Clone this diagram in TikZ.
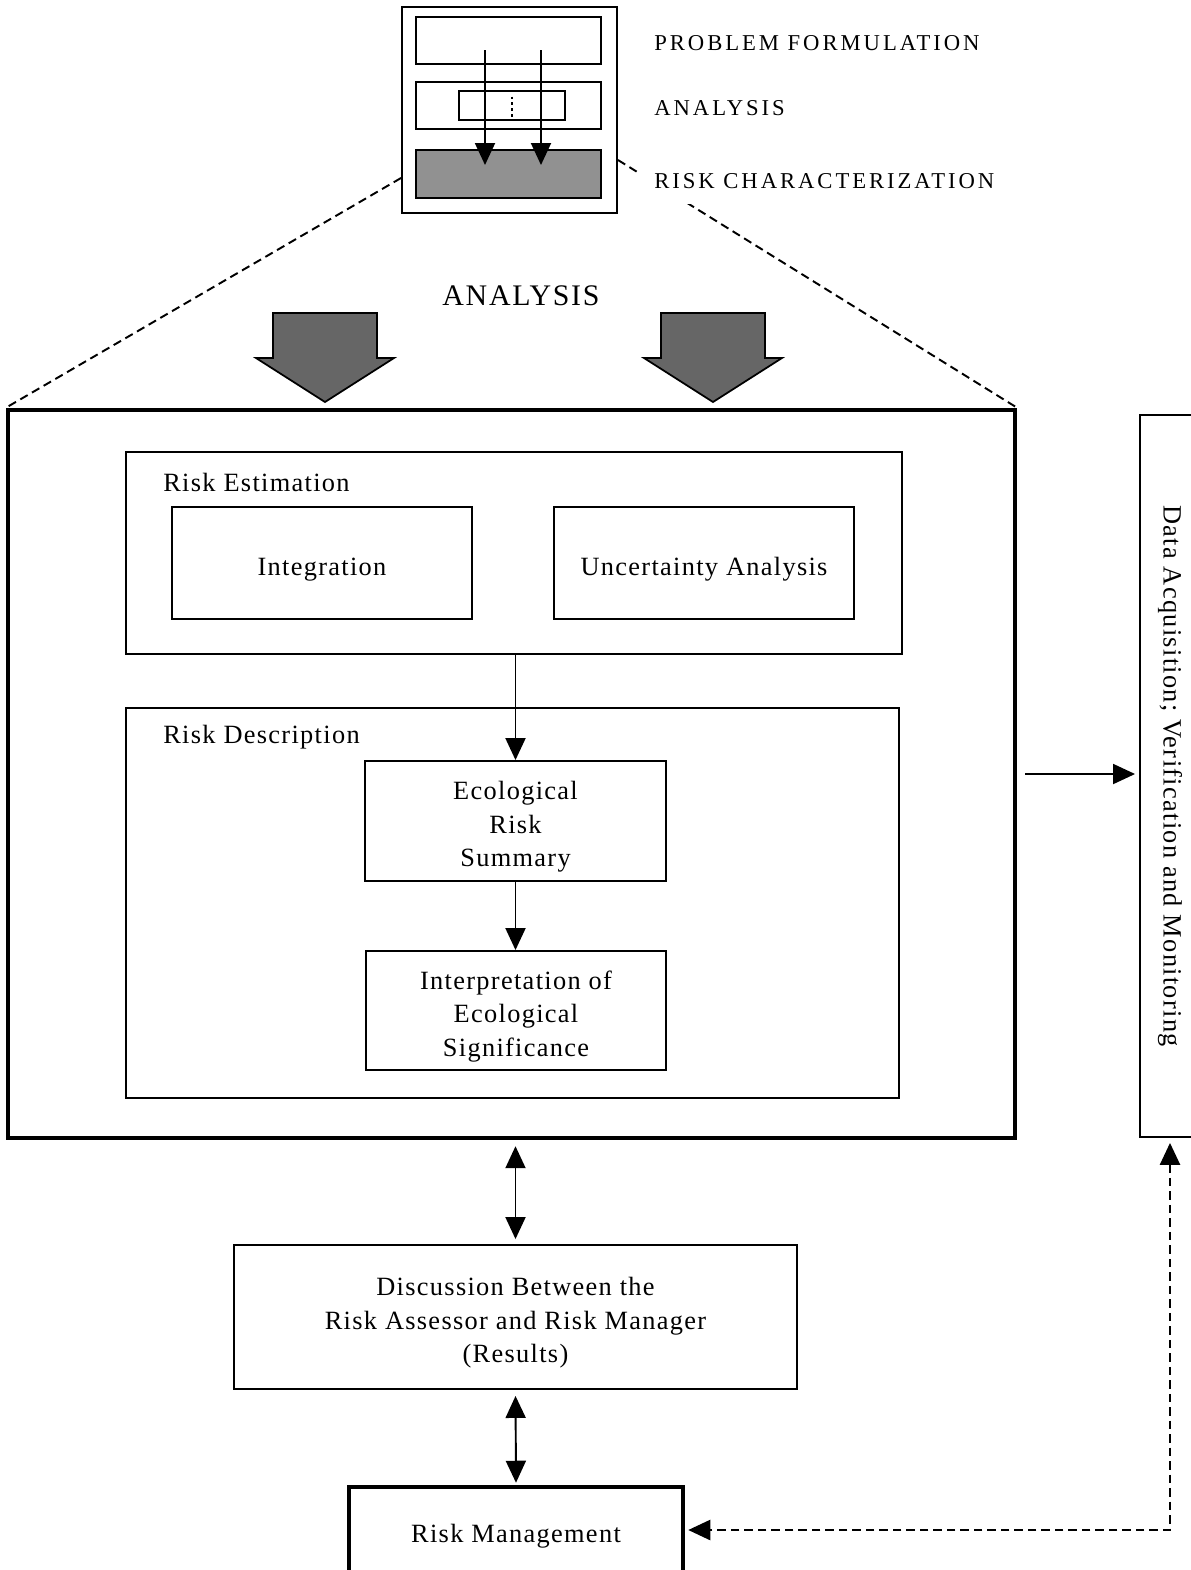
\documentclass[tikz,border=0pt]{standalone}
\usepackage{fontspec}
\setmainfont{Liberation Serif}[LetterSpace=5]
\newfontfamily\capsfont{Liberation Serif}[LetterSpace=13]
\newfontfamily\headfont{Liberation Serif}[LetterSpace=6]
\usetikzlibrary{arrows.meta}
\newcommand{\dropped}[1]{\raisebox{-0.11cm}[\height][\depth]{\begin{tabular}{@{}c@{}}#1\end{tabular}}}

\tikzset{
  box/.style={draw, line width=1.1pt, align=center, inner sep=0pt},
  thickbox/.style={draw, line width=2.6pt, align=center, inner sep=0pt},
  lab/.style={anchor=west, inner sep=0pt},
  arr/.style={line width=1.1pt, -{Triangle[width=0.4cm,length=0.44cm]}},
  darr/.style={line width=1.1pt, {Triangle[width=0.4cm,length=0.44cm]}-{Triangle[width=0.4cm,length=0.44cm]}},
  dashline/.style={line width=1.1pt, dash pattern=on 0.17cm off 0.1cm},
  bigarrow/.style={draw, line width=1pt, fill=black!60}
}

\begin{document}
\begin{tikzpicture}[x=0.02cm, y=-0.02cm, font=\fontsize{15}{19}\selectfont]
\useasboundingbox (0,0) rectangle (1191,1570);
% small overview
\node[box, minimum width=4.3cm, minimum height=4.12cm] (topbox) at (509.5,110) {};
\node[box, minimum width=3.7cm, minimum height=0.94cm] (pf) at (508.5,40.5) {};
\node[box, minimum width=3.7cm, minimum height=0.94cm] (an) at (508.5,105.5) {};
\node[box, minimum width=2.12cm, minimum height=0.58cm] (ansub) at (512,105.5) {};
\node[box, fill=black!43, minimum width=3.7cm, minimum height=0.96cm] (rc) at (508.5,174) {};
\draw[line width=1.4pt, dotted] ([yshift=0.18cm]ansub.center) -- ([yshift=-0.22cm]ansub.center);
\draw[arr] ([xshift=-0.47cm,yshift=-0.19cm]pf.center) -- ([xshift=-0.47cm,yshift=0.18cm]rc.center);
\draw[arr] ([xshift=0.65cm,yshift=-0.19cm]pf.center) -- ([xshift=0.65cm,yshift=0.18cm]rc.center);

% main frame
\node[thickbox, minimum width=20.14cm, minimum height=14.56cm] (main) at (511.5,774) {};
\draw[dashline] ([yshift=-1.36cm]topbox.west) -- (main.north west);
\draw[dashline] ([yshift=-1.0cm]topbox.east) -- (main.north east);

\node[lab] (pflab) at (654,43) {\capsfont\fontsize{12.9}{15}\selectfont PROBLEM FORMULATION};
\node[lab] (anlab) at (654,108) {\capsfont\fontsize{12.9}{15}\selectfont ANALYSIS};
\node[lab, fill=white, inner sep=0.3cm] (rclab) at (639,181) {\capsfont\fontsize{12.9}{15}\selectfont RISK CHARACTERIZATION};

\node (analysis) at (521,296) {\headfont\fontsize{17}{20}\selectfont ANALYSIS};
\foreach \cx in {325,713}
  \draw[bigarrow] (\cx-52,313) -- (\cx+52,313) -- (\cx+52,358) -- (\cx+69,358)
    -- (\cx,402) -- (\cx-69,358) -- (\cx-52,358) -- cycle;

% risk estimation
\node[box, minimum width=15.52cm, minimum height=4.04cm] (estbox) at (514,553) {};
\node[lab] (estlab) at (163,482) {Risk Estimation};
\node[box, minimum width=6cm, minimum height=2.24cm] (integ) at (322,563) {\dropped{Integration}};
\node[box, minimum width=6cm, minimum height=2.24cm] (unc) at (704,563) {\dropped{Uncertainty Analysis}};

% risk description
\node[box, minimum width=15.46cm, minimum height=7.8cm] (descbox) at (512.5,903) {};
\node[lab] (desclab) at (163,737) {Risk Description};
\node[box, minimum width=6.02cm, minimum height=2.4cm] (erisk) at (515.5,821) {\dropped{Ecological\\Risk\\Summary}};
\node[box, minimum width=6cm, minimum height=2.38cm] (interp) at (516,1010.5) {\dropped{Interpretation of\\Ecological\\Significance}};
\draw[arr] (erisk.north |- estbox.south) -- (erisk.north);
\draw[arr] (erisk.south) -- (interp.north -| erisk.south);

% side box
\node[box, rotate=-90, minimum width=14.44cm, minimum height=1.2cm] (dam) at (1170,776) {Data Acquisition; Verification and Monitoring};
\draw[arr, shorten <=0.16cm, shorten >=0.08cm] (main.east) -- (main.east -| dam.south);

% results and management
\node[box, minimum width=11.26cm, minimum height=2.88cm] (disc) at (515.5,1317) {\dropped{Discussion Between the\\Risk Assessor and Risk Manager\\(Results)}};
\node[thickbox, minimum width=6.68cm, minimum height=1.72cm] (rm) at (516,1530) {\dropped{Risk Management}};
\draw[darr, shorten <=0.12cm, shorten >=0.1cm] (disc.north |- main.south) -- (disc.north);
\draw[darr, shorten <=0.12cm, shorten >=0.04cm] (disc.south) -- (rm.north);
\draw[darr, dashline, line width=1.4pt, shorten <=0.1cm, shorten >=0.06cm] (dam.east) |- (rm.east);
\end{tikzpicture}
\end{document}
